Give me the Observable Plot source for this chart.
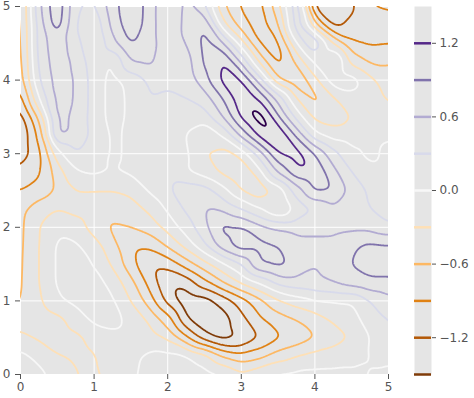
<!DOCTYPE html>
<html><head><meta charset="utf-8">
<script src="https://cdn.jsdelivr.net/npm/d3@7"></script>
<script src="https://cdn.jsdelivr.net/npm/@observablehq/plot@0.6"></script>
<style>
body{margin:0;background:#fff;}
#wrap{position:relative;width:474px;height:398px;font-family:"DejaVu Sans",sans-serif;}
#main{position:absolute;left:0;top:0;}
#cbar{position:absolute;left:400px;top:0;}
</style></head><body><div id="wrap"><div id="main"></div><div id="cbar"></div></div>
<script>
// grid sample positions
const xs = [0,0.25,0.5,0.75,1,1.25,1.5,1.75,2,2.25,2.5,2.75,3,3.25,3.5,3.75,4,4.25,4.5,4.75,5];
const ys = [5,4.75,4.5,4.25,4,3.75,3.5,3.25,3,2.75,2.5,2.25,2,1.75,1.5,1.25,1,0.75,0.5,0.25,0];
// values, one row per y (top to bottom)
const r50  = [-0.7,0.55,1.15,0.35,0.25,0.8,1.1,0.8,0.25,0.7,0.35,-0.55,-0.95,-1.0,-0.4,0.6,-1.3,-1.5,-1.25,-0.9,-0.85];
const r475 = [-0.7,0.45,1.1,0.3,0.05,0.7,1.1,0.78,0.3,0.7,0.9,-0.2,-0.75,-1.05,-0.65,0.55,-0.5,-1.3,-1.1,-1.02,-1.05];
const r450 = [-0.72,0.45,0.78,0.45,-0.05,0.5,0.95,0.75,0.4,0.6,1.0,0.65,-0.15,-0.95,-1.0,0.0,0.65,-0.25,-0.85,-0.95,-0.92];
const r425 = [-0.75,0.4,0.75,0.55,0.1,-0.05,0.62,0.68,0.35,0.45,0.95,1.25,0.55,-0.35,-1.0,-0.55,0.1,0.5,-0.4,-0.65,-0.62];
const r400 = [-0.8,0.3,0.72,0.6,0.15,-0.1,0.1,0.35,0.35,0.4,0.8,1.3,1.25,0.45,-0.55,-0.85,-0.4,0.2,0.15,-0.2,-0.48];
const r375 = [-1.05,0.0,0.7,0.6,0.15,-0.1,0.05,0.3,0.25,0.3,0.45,0.9,1.4,1.15,0.5,-0.3,-0.7,-0.35,-0.1,-0.2,-0.33];
const r350 = [-1.35,-0.55,0.68,0.55,0.15,-0.1,0.05,0.2,0.15,0.05,0.15,0.6,1.25,1.7,0.95,0.2,-0.4,-0.45,-0.3,-0.2,-0.2];
const r325 = [-1.45,-0.85,0.68,0.55,0.2,-0.05,0.05,0.2,0.2,0.0,-0.33,0.0,0.7,1.3,1.5,0.85,0.1,-0.15,-0.15,-0.05,-0.02];
const r300 = [-1.4,-1.0,-0.1,0.3,0.2,-0.05,0.05,0.2,0.3,0.05,-0.3,-0.45,-0.2,0.45,1.2,1.35,0.9,0.4,0.05,-0.05,0.05];
const r275 = [-1.1,-0.95,-0.45,-0.05,0.05,0.0,0.05,0.15,0.2,0.0,-0.15,-0.38,-0.58,-0.1,0.65,1.15,1.15,0.7,0.3,0.05,0.05];
const r250 = [-0.9,-0.8,-0.55,-0.3,-0.3,-0.3,-0.25,0.05,0.25,0.5,0.45,0.1,-0.3,-0.55,-0.25,0.45,0.95,0.9,0.5,0.25,0.15];
const r225 = [-0.7,-0.4,-0.3,-0.4,-0.45,-0.5,-0.4,-0.25,0.05,0.35,0.6,0.55,0.3,0.0,-0.35,0.05,0.3,0.55,0.45,0.3,0.15];
const r200 = [-0.68,-0.3,-0.05,-0.15,-0.45,-0.65,-0.6,-0.45,-0.2,0.15,0.5,1.0,0.95,0.7,0.55,0.5,0.5,0.5,0.52,0.5,0.35];
const r175 = [-0.67,-0.3,0.05,0.05,-0.15,-0.5,-0.85,-0.85,-0.55,-0.2,0.25,0.8,1.1,1.0,0.92,0.7,0.7,0.7,0.85,0.98,0.95];
const r150 = [-0.66,-0.3,0.05,0.12,0.0,-0.35,-0.8,-1.15,-1.1,-0.75,-0.4,-0.05,0.3,0.92,1.0,0.8,0.6,0.7,0.92,1.02,1.02];
const r125 = [-0.65,-0.3,0.05,0.12,0.12,-0.1,-0.5,-1.0,-1.45,-1.4,-1.0,-0.6,-0.25,0.05,0.4,0.5,0.55,0.62,0.75,0.85,0.85];
const r100 = [-0.62,-0.35,-0.05,0.08,0.15,0.05,-0.3,-0.75,-1.3,-1.7,-1.65,-1.4,-1.05,-0.7,-0.35,-0.15,-0.02,0.0,0.0,0.3,0.5];
const r075 = [-0.47,-0.5,-0.4,-0.2,0.1,0.12,-0.1,-0.35,-0.75,-1.45,-1.75,-1.65,-1.3,-0.95,-0.75,-0.6,-0.45,-0.25,-0.12,0.15,0.32];
const r050 = [-0.2,-0.35,-0.4,-0.35,-0.25,-0.1,-0.1,-0.15,-0.35,-0.85,-1.35,-1.62,-1.5,-1.2,-0.95,-0.8,-0.62,-0.45,-0.28,0.0,0.25];
const r025 = [0.08,-0.1,-0.3,-0.35,-0.32,-0.2,-0.05,0.05,0.08,0.06,-0.15,-0.6,-0.8,-0.7,-0.45,-0.3,-0.2,-0.15,-0.08,0.0,0.05];
const r000 = [0.3,0.1,-0.12,-0.3,-0.33,-0.25,-0.05,0.1,0.15,0.15,0.12,0.03,-0.22,-0.05,0.05,0.08,0.08,0.07,0.04,-0.01,-0.05];
const rows = [r50,r475,r450,r425,r400,r375,r350,r325,r300,r275,r250,r225,r200,r175,r150,r125,r100,r075,r050,r025,r000];

const levels = [-1.5,-1.2,-0.9,-0.6,-0.3,0,0.3,0.6,0.9,1.2,1.5];
const levelColors = ["#7f3b08","#b35806","#e08214","#fdb863","#fee0b6","#f7f7f7","#d8daeb","#b2abd2","#8073ac","#542788","#2d004b"];
const axisTicks = [0,1,2,3,4,5];
const cbarTicks = [-1.2,-0.6,0,0.6,1.2];

const points = [];
rows.forEach((row, j) => row.forEach((v, i) => points.push({x: xs[i], y: ys[j], v})));

// raster slightly larger than the frame; outside the frame, repeat the edge pixels
const lo = 0, hi = 5, pad = 0.15;
const bary = Plot.interpolatorBarycentric();
function interp(index, w, h, X, Y, V) {
  const a = bary(index, w, h, X, Y, V);
  const b = Plot.interpolateNearest(index, w, h, X, Y, V);
  for (let i = 0; i < a.length; i++) if (!(a[i] === a[i]) || a[i] == null) a[i] = b[i];
  const span = hi - lo + 2 * pad;
  const sx = span / w, sy = span / h;
  const cMin = Math.ceil(pad / sx - 0.5), cMax = Math.floor((pad + hi - lo) / sx - 0.5);
  const rMin = Math.ceil(pad / sy - 0.5), rMax = Math.floor((pad + hi - lo) / sy - 0.5);
  const out = new Float64Array(w * h);
  for (let r = 0; r < h; r++) {
    const rr = Math.min(rMax, Math.max(rMin, r));
    for (let c = 0; c < w; c++) {
      const cc = Math.min(cMax, Math.max(cMin, c));
      out[r * w + c] = a[rr * w + cc];
    }
  }
  return out;
}

const colorScale = {type: "ordinal", domain: levels, range: levelColors};
const txt = "#555555";
const font = {fontFamily: "DejaVu Sans", fontSize: "12px", background: "transparent"};

const main = Plot.plot({
  width: 400, height: 398,
  marginLeft: 20, marginRight: 12, marginTop: 6, marginBottom: 24,
  style: font,
  x: {domain: [lo, hi]},
  y: {domain: [lo, hi]},
  color: colorScale,
  marks: [
    Plot.frame({fill: "#E5E5E5", stroke: "none"}),
    Plot.gridX(axisTicks, {stroke: "#ffffff", strokeOpacity: 1, strokeWidth: 1}),
    Plot.gridY(axisTicks, {stroke: "#ffffff", strokeOpacity: 1, strokeWidth: 1}),
    Plot.contour(points, {
      x: "x", y: "y", stroke: "v", fill: "none",
      thresholds: levels,
      interpolate: interp,
      pixelSize: 1, blur: 4,
      x1: lo - pad, x2: hi + pad, y1: lo - pad, y2: hi + pad,
      strokeWidth: 1.8, clip: "frame"
    }),
    Plot.axisX(axisTicks, {color: txt, tickSize: 5, tickPadding: 3, tickFormat: d3.format("d"), label: null}),
    Plot.axisY(axisTicks, {color: txt, tickSize: 5, tickPadding: 5, tickFormat: d3.format("d"), label: null})
  ]
});
document.getElementById("main").appendChild(main);

const cbar = Plot.plot({
  width: 74, height: 398,
  marginLeft: 14, marginRight: 43, marginTop: 6, marginBottom: 24,
  style: font,
  x: {domain: [0, 1], axis: null},
  y: {domain: [-1.5, 1.5]},
  color: colorScale,
  marks: [
    Plot.frame({fill: "#E5E5E5", stroke: "none"}),
    Plot.ruleY(levels.slice(0, -1), {y: d => d, stroke: d => d, strokeWidth: 2.5}),
    Plot.axisY(cbarTicks, {anchor: "right", color: txt, tickSize: 4, tickPadding: 4, tickFormat: d3.format(".1f"), label: null})
  ]
});
document.getElementById("cbar").appendChild(cbar);
</script></body></html>
